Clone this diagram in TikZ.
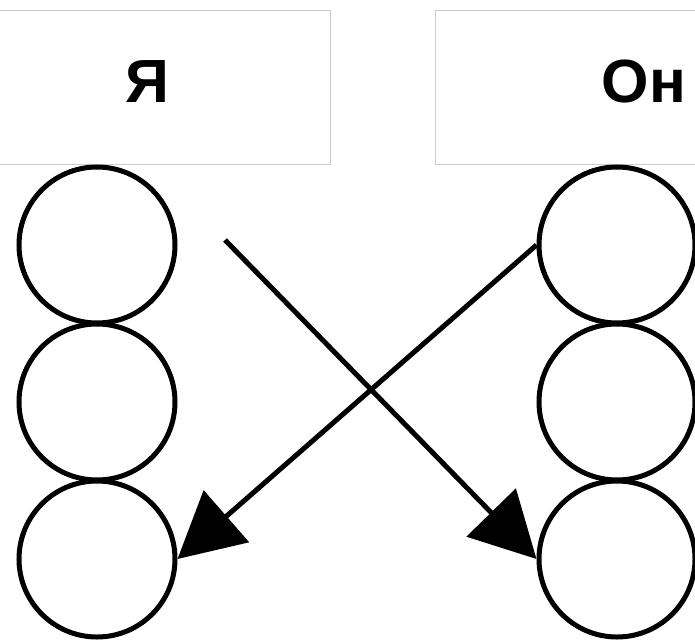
\documentclass[tikz,border=0pt]{standalone}
\usepackage{fontspec}
\setmainfont{Liberation Sans}
\usetikzlibrary{arrows.meta}
\tikzset{
  panel/.style={draw=black!20, line width=1pt, fill=white},
  heading/.style={font=\fontsize{61}{61}\selectfont\bfseries, inner sep=0pt},
  ball/.style={circle, draw=black, line width=5pt, minimum size=156pt, inner sep=0pt},
  link/.style={line width=5pt, -{Triangle[length=65pt, width=68pt]}}
}
\begin{document}
\begin{tikzpicture}[x=1pt, y=-1pt]
  \useasboundingbox (0,0) rectangle (695,639);
  \clip (0,0) rectangle (695,639);
  % header panels
  \draw[panel] (-10,11) rectangle (330,165);
  \draw[panel] (435,11) rectangle (710,165);
  \node[heading] (me) at (147,82) {Я};
  \node[heading] (him) at (644,82) {Он};
  % left column
  \node[ball] (l1) at (97,245) {};
  \node[ball] (l2) at (97,402) {};
  \node[ball] (l3) at (97,559) {};
  % right column
  \node[ball] (r1) at (617,245) {};
  \node[ball] (r2) at (617,402) {};
  \node[ball] (r3) at (617,559) {};
  % crossing arrows
  \coordinate (s) at (225,240);
  \draw[link] (s) -- (r3.west);
  \draw[link] (r1.west) -- (l3.east);
\end{tikzpicture}
\end{document}
